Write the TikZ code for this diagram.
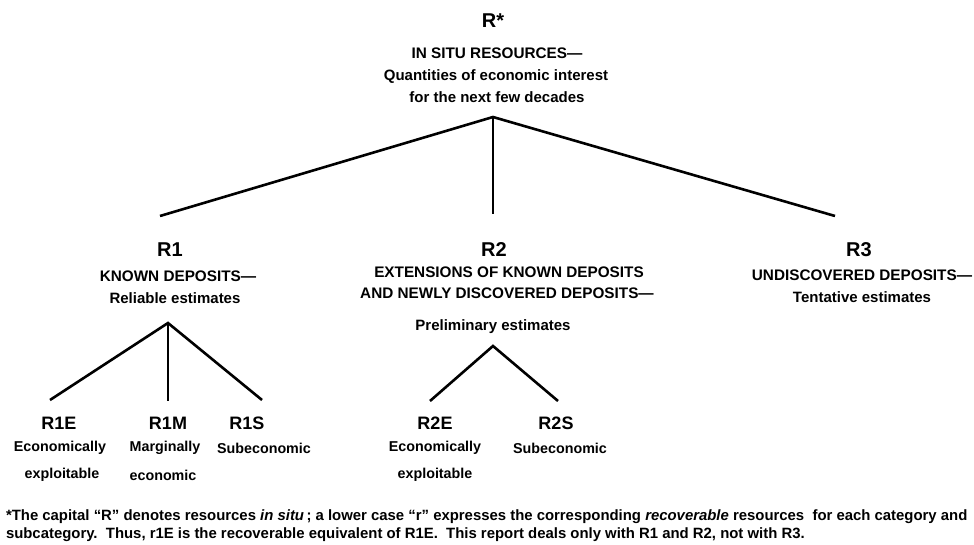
\documentclass[tikz,border=0pt]{standalone}
\usepackage{fontspec}
\setmainfont{Liberation Sans}
\begin{document}
\begin{tikzpicture}[x=1pt,y=-1pt,
  every node/.style={inner sep=0pt,outer sep=0pt,font=\bfseries},
  code/.style={font=\bfseries\fontsize{20}{20}\selectfont},
  leafcode/.style={font=\bfseries\fontsize{18}{18}\selectfont},
  head/.style={font=\bfseries\fontsize{15.3}{15.3}\selectfont},
  desc/.style={font=\bfseries\fontsize{15}{15}\selectfont},
  sub/.style={font=\bfseries\fontsize{14.3}{14.3}\selectfont},
  note/.style={font=\bfseries\fontsize{14.9}{14.9}\selectfont,anchor=west},
  branch/.style={line width=2.6pt,line cap=butt}]
\useasboundingbox (0,0) rectangle (974,545);
% top
\node[code] (Rs) at (493,21) {R*};
\node[head] (Rsh) at (497,53) {IN SITU RESOURCES---};
\node[desc] (Rsd1) at (496,77) {Quantities of economic interest};
\node[desc] (Rsd2) at (497,97) {for the next few decades};
\coordinate (Ra) at (493,117);
\coordinate (Ra1) at (160,216);
\coordinate (Ra2) at (493,214);
\coordinate (Ra3) at (835,216);
\draw[branch] (Ra1) -- (Ra) -- (Ra3);
\draw[branch] (Ra) -- (Ra2);
% R1
\node[code] (R1) at (170,250) {R1};
\node[head] (R1h) at (178,276) {KNOWN DEPOSITS---};
\node[desc] (R1d) at (175,298) {Reliable estimates};
\coordinate (R1a) at (168,323);
\coordinate (R1e1) at (50,400);
\coordinate (R1e2) at (168,401);
\coordinate (R1e3) at (262,400);
\draw[branch] (R1e1) -- (R1a) -- (R1e3);
\draw[branch] (R1a) -- (R1e2);
% R2
\node[code] (R2) at (494,250) {R2};
\node[head] (R2h1) at (509,272) {EXTENSIONS OF KNOWN DEPOSITS};
\node[head] (R2h2) at (507,293) {AND NEWLY DISCOVERED DEPOSITS---};
\node[desc] (R2d) at (493,327) {Preliminary estimates};
\coordinate (R2a) at (493,346);
\coordinate (R2e1) at (430,401);
\coordinate (R2e2) at (558,401);
\draw[branch] (R2e1) -- (R2a) -- (R2e2);
% R3
\node[code] (R3) at (859,250) {R3};
\node[head] (R3h) at (862,275) {UNDISCOVERED DEPOSITS---};
\node[desc] (R3d) at (862,297) {Tentative estimates};
% leaves
\node[leafcode] (R1E) at (59,423) {R1E};
\node[sub] (R1Ea) at (60,448) {Economically};
\node[sub] (R1Eb) at (62,475) {exploitable};
\node[leafcode] (R1M) at (168,423) {R1M};
\node[sub] (R1Ma) at (165,448) {Marginally};
\node[sub] (R1Mb) at (163,475) {economic};
\node[leafcode] (R1S) at (247,423) {R1S};
\node[sub] (R1Sa) at (264,448) {Subeconomic};
\node[leafcode] (R2E) at (435,423) {R2E};
\node[sub] (R2Ea) at (435,448) {Economically};
\node[sub] (R2Eb) at (435,475) {exploitable};
\node[leafcode] (R2S) at (556,423) {R2S};
\node[sub] (R2Sa) at (560,448) {Subeconomic};
% footnote
\node[note] (fn1) at (6,517) {*The capital ``R'' denotes resources \textit{in situ}\,; a lower case ``r'' expresses the corresponding \textit{recoverable} resources\ \ for each category and};
\node[note] (fn2) at (6,535) {subcategory.\ \ Thus, r1E is the recoverable equivalent of R1E.\ \ This report deals only with R1 and R2, not with R3.};
\end{tikzpicture}
\end{document}
